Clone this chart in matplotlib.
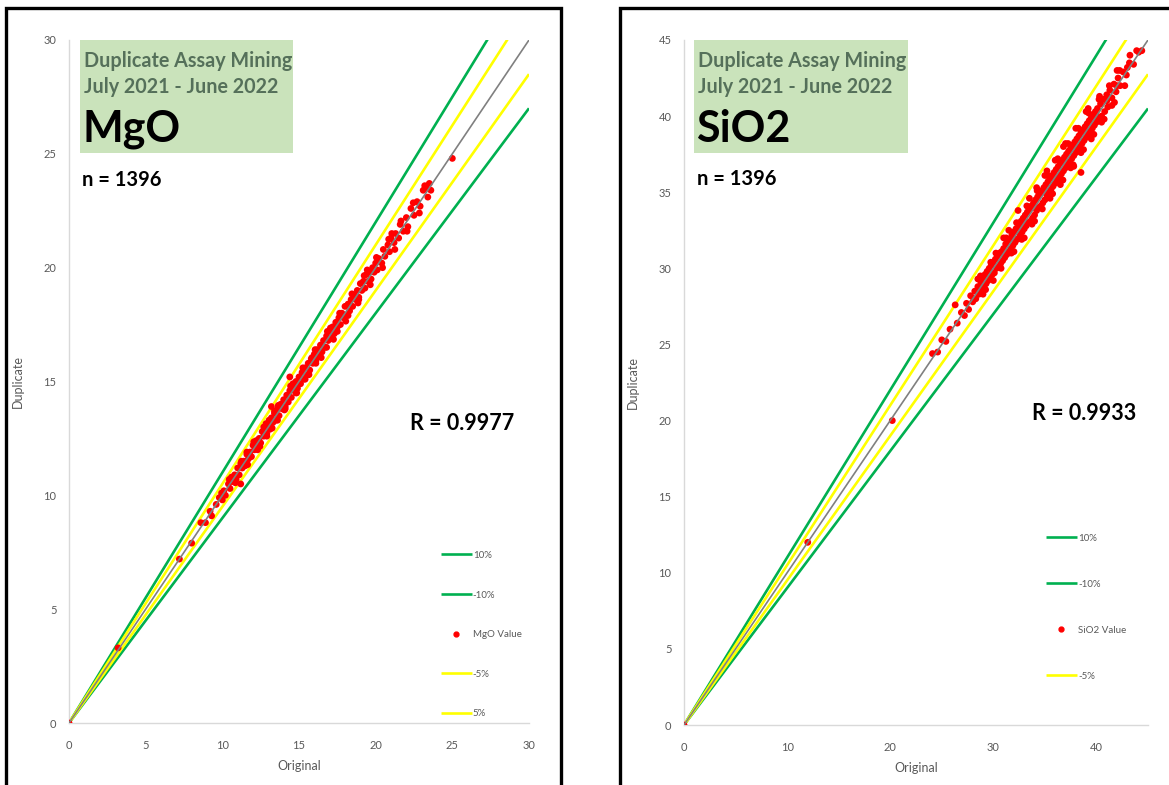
import matplotlib
matplotlib.use("Agg")
import matplotlib.pyplot as plt
from matplotlib.patches import Rectangle
from matplotlib.lines import Line2D

plt.rcParams['font.family'] = ['Lato', 'DejaVu Sans']

# ---------------- data ----------------
mgo_orig = [0, 3.2, 7.2, 8.0, 8.6, 8.9, 9.2, 9.3, 9.6, 9.8, 10.0, 10.1, 10.2, 10.4, 10.5, 10.6, 10.7,
            10.8, 10.9, 11.0, 11.1, 11.2, 11.2, 11.3, 11.4, 11.5, 11.6, 11.7, 11.8, 11.9, 12.0, 12.1,
            12.2, 12.3, 12.4, 12.5, 12.6, 12.7, 12.8, 12.9, 13.0, 13.1, 13.2, 13.2, 13.3, 13.4, 13.5,
            13.6, 13.7, 13.8, 13.9, 14.0, 14.1, 14.2, 14.3, 14.4, 14.4, 14.5, 14.6, 14.7, 14.8, 14.9,
            15.0, 15.1, 15.2, 15.3, 15.4, 15.5, 15.6, 15.7, 15.8, 15.9, 16.0, 16.1, 16.2, 16.3, 16.4,
            16.5, 16.6, 16.7, 16.8, 16.9, 17.0, 17.1, 17.2, 17.3, 17.4, 17.5, 17.6, 17.7, 17.8, 17.9,
            18.0, 18.1, 18.2, 18.3, 18.4, 18.5, 18.6, 18.7, 18.8, 18.9, 19.0, 19.1, 19.2, 19.3, 19.4,
            19.5, 19.6, 19.7, 19.8, 19.9, 20.0, 20.1, 20.2, 20.4, 20.5, 20.6, 20.8, 20.9, 21.0, 21.2,
            21.3, 21.5, 21.6, 21.8, 22.0, 22.1, 22.3, 22.5, 22.7, 22.9, 23.1, 23.3, 23.5, 23.6, 25.0,
            12.3, 12.9, 13.6, 14.1, 14.8, 15.4, 16.1, 16.8, 17.5, 18.2, 18.9, 11.6, 12.7, 13.4, 14.6,
            12.05, 12.45, 12.85, 13.25, 13.65, 14.05, 14.45, 14.85, 15.25, 15.65, 16.05, 16.45,
            16.85, 17.25, 17.65, 18.05, 18.45, 18.85, 19.25, 19.65, 20.05, 20.45, 20.85, 21.25,
            21.65, 22.05, 22.45, 22.85, 10.45, 10.85, 11.25, 11.65, 9.95, 23.2, 23.4, 13.05, 15.85,
            17.05, 19.45, 21.05]
mgo_dup = [0, 3.3, 7.2, 7.9, 8.8, 8.8, 9.3, 9.1, 9.6, 9.9, 9.8, 10.2, 10.0, 10.5, 10.3, 10.8, 10.6,
           10.9, 10.7, 11.2, 10.9, 10.5, 11.4, 11.2, 11.5, 11.3, 11.8, 11.6, 11.9, 11.7, 12.2, 12.0,
           12.4, 12.1, 12.5, 12.3, 12.8, 12.6, 13.0, 12.7, 13.1, 12.9, 13.9, 13.4, 13.2, 13.6, 13.3,
           13.8, 13.5, 14.0, 13.8, 14.2, 13.9, 14.4, 14.1, 15.2, 14.6, 14.3, 14.8, 14.6, 15.0, 14.7,
           15.2, 14.9, 15.4, 15.1, 15.6, 15.3, 15.8, 15.5, 16.0, 15.8, 16.2, 15.9, 16.4, 16.1, 16.6,
           16.3, 16.8, 16.5, 17.0, 16.8, 17.2, 16.9, 17.4, 17.1, 17.6, 17.4, 17.8, 17.5, 18.0, 17.8,
           18.3, 17.9, 18.4, 18.1, 18.6, 18.3, 18.8, 18.6, 19.0, 18.7, 19.3, 19.0, 19.4, 19.1, 19.7,
           19.4, 19.8, 19.5, 20.0, 19.8, 20.2, 19.9, 20.4, 20.2, 20.8, 20.5, 21.0, 20.7, 21.3, 21.1,
           21.5, 21.3, 21.9, 21.6, 22.2, 21.8, 22.6, 22.3, 22.9, 22.7, 23.4, 23.5, 23.7, 23.4, 24.8,
           12.0, 12.6, 13.3, 13.8, 14.5, 15.1, 15.8, 16.5, 17.2, 17.9, 18.6, 11.9, 13.0, 13.7, 14.9,
           12.35, 12.15, 13.15, 12.95, 13.95, 13.75, 14.8, 14.5, 15.6, 15.3, 16.4, 16.05,
           17.2, 16.85, 18.0, 17.65, 18.85, 18.45, 19.65, 19.25, 20.45, 20.0, 21.25, 20.8,
           22.05, 21.6, 22.85, 22.4, 10.7, 10.55, 11.5, 11.35, 10.1, 23.6, 23.1, 13.3, 16.05,
           17.35, 19.9, 21.5]

sio2_orig = [0, 12.0, 20.2, 24.1, 24.6, 25.0, 25.4, 25.8, 26.3, 26.5, 26.9, 27.2, 27.4, 27.6, 27.8,
             28.0, 28.2, 28.3, 28.5, 28.6, 28.8, 28.9, 29.0, 29.1, 29.2, 29.3, 29.4, 29.5, 29.6, 29.7,
             29.8, 29.9, 30.0, 30.1, 30.2, 30.3, 30.4, 30.5, 30.6, 30.7, 30.8, 30.9, 31.0, 31.1, 31.2,
             31.3, 31.4, 31.5, 31.6, 31.7, 31.8, 31.9, 32.0, 32.1, 32.2, 32.3, 32.4, 32.5, 32.6, 32.7,
             32.8, 32.9, 33.0, 33.1, 33.2, 33.3, 33.4, 33.5, 33.6, 33.7, 33.8, 33.9, 34.0, 34.1, 34.2,
             34.3, 34.4, 34.5, 34.6, 34.7, 34.8, 34.9, 35.0, 35.1, 35.2, 35.3, 35.4, 35.5, 35.6, 35.7,
             35.8, 35.9, 36.0, 36.1, 36.2, 36.3, 36.4, 36.5, 36.6, 36.7, 36.8, 36.9, 37.0, 37.1, 37.2,
             37.3, 37.4, 37.5, 37.6, 37.7, 37.8, 37.9, 38.0, 38.1, 38.2, 38.3, 38.4, 38.5, 38.5, 38.6,
             38.7, 38.8, 38.9, 39.0, 39.1, 39.2, 39.3, 39.4, 39.5, 39.6, 39.7, 39.8, 39.9, 40.0, 40.1,
             40.2, 40.4, 40.5, 40.7, 40.8, 41.0, 41.1, 41.3, 41.5, 41.7, 41.9, 42.1, 42.3, 42.6, 42.9,
             43.2, 43.6, 43.9, 44.1, 44.4,
             33.5, 34.2, 35.0, 36.0, 37.0, 38.0, 39.0, 35.5, 36.5, 37.5, 38.5, 39.5, 40.5, 33.0, 34.0,
             31.0, 30.0, 32.0, 36.8, 35.2, 37.8, 39.2, 40.3, 41.5, 42.0, 31.5, 29.0, 28.5,
             30.25, 30.75, 31.25, 31.75, 32.25, 32.75, 33.25, 33.75, 34.25, 34.75, 35.25, 35.75,
             36.25, 36.75, 37.25, 37.75, 38.25, 38.75, 39.25, 39.75, 40.25, 40.75, 41.25, 41.75,
             42.25, 42.75, 43.25, 29.75, 29.25, 28.75, 35.0, 36.0, 37.0, 38.0, 39.0, 40.0, 34.0,
             33.0, 32.0, 31.0, 41.0, 42.0, 43.0]
sio2_dup = [0, 12.0, 20.0, 24.4, 24.5, 25.3, 25.2, 26.0, 27.6, 26.4, 27.1, 26.9, 27.7, 27.3, 28.2,
            27.8, 28.5, 28.0, 28.8, 28.3, 29.1, 28.6, 29.4, 28.8, 29.6, 29.0, 29.8, 29.2, 30.0, 29.4,
            30.2, 29.6, 30.4, 29.7, 30.6, 30.0, 30.8, 30.1, 31.0, 30.3, 31.1, 30.5, 31.3, 30.7, 31.6,
            30.9, 31.8, 31.1, 31.9, 31.3, 32.2, 31.5, 32.4, 31.7, 32.6, 31.9, 33.8, 32.8, 32.2, 33.1,
            32.4, 33.3, 32.6, 33.5, 32.8, 33.7, 33.0, 33.9, 33.1, 34.1, 33.3, 34.3, 33.5, 34.5, 33.8,
            34.7, 34.0, 34.9, 34.1, 35.1, 34.3, 35.3, 34.5, 35.5, 34.8, 35.7, 35.0, 35.9, 35.2, 36.1,
            35.4, 36.3, 35.6, 36.5, 35.8, 36.7, 36.0, 36.9, 36.2, 37.1, 36.4, 37.3, 36.6, 37.5, 36.8,
            37.7, 37.0, 37.9, 37.2, 38.1, 37.4, 38.3, 37.6, 38.5, 37.8, 38.7, 38.0, 36.3, 38.9, 38.2,
            39.1, 38.4, 39.3, 38.6, 39.5, 38.8, 39.7, 39.0, 39.9, 39.2, 40.1, 39.4, 40.3, 39.6, 40.5,
            39.8, 40.8, 40.0, 41.1, 40.3, 41.4, 40.6, 41.7, 41.2, 42.1, 41.6, 42.5, 42.0, 42.9, 42.7,
            43.5, 43.4, 44.3, 44.2, 44.3,
            34.6, 35.3, 36.1, 37.1, 38.2, 39.2, 40.3, 34.6, 35.5, 36.6, 37.6, 38.5, 39.6, 32.0, 33.1,
            32.0, 29.2, 31.1, 38.0, 36.4, 36.7, 40.5, 41.3, 40.7, 43.0, 32.5, 28.3, 29.3,
            31.0, 30.0, 32.0, 31.0, 33.0, 31.9, 34.1, 32.9, 35.1, 33.9, 36.1, 34.9,
            37.2, 35.8, 38.2, 36.8, 39.2, 37.8, 40.2, 38.8, 41.1, 39.8, 42.0, 40.9,
            43.0, 42.0, 44.0, 30.4, 28.6, 29.5, 35.0, 36.0, 37.0, 38.0, 39.0, 40.0, 34.0,
            33.0, 32.0, 31.0, 41.0, 42.0, 43.2]

band_factors = [1.10, 0.90, 1.05, 0.95]
band_labels = ['10%', '-10%', '5%', '-5%']
band_colors = ['#00b050', '#00b050', '#ffff00', '#ffff00']

# ---------------- layout ----------------
W, H = 1169, 785
fig = plt.figure(figsize=(W / 100, H / 100), dpi=100)
fig.patch.set_facecolor('white')


def fx(px):
    return px / W


def fy(py):
    return 1 - py / H


def make_axes(x0, x1, ytop, ybot):
    return fig.add_axes([fx(x0), fy(ybot), fx(x1) - fx(x0), fy(ytop) - fy(ybot)])


TXT_GRAY = '#595959'


def panel(ax, orig, dup, xmax, ymax, xstep, ystep, name, r_text, legend_order,
          box_px, title_px, n_px, r_px, leg_anchor, leg_spacing):
    handles = {}
    for f, lab, col in zip(band_factors, band_labels, band_colors):
        ln, = ax.plot([0, xmax], [0, xmax * f], color=col, lw=1.9, zorder=2,
                      solid_capstyle='butt')
        handles[lab] = ln
    ax.scatter(orig, dup, s=24, color='#ff0000', edgecolors='none', zorder=3)
    handles['value'] = Line2D([], [], color='#ff0000', marker='o', markersize=3.5,
                              linestyle='none')
    ax.plot([0, xmax], [0, xmax], color='#808080', lw=1.2, zorder=4)

    ax.set_xlim(0, xmax)
    ax.set_ylim(0, ymax)
    ax.set_xticks(range(0, int(xmax) + 1, xstep))
    ax.set_yticks(range(0, int(ymax) + 1, ystep))
    for s in ['top', 'right']:
        ax.spines[s].set_visible(False)
    for s in ['left', 'bottom']:
        ax.spines[s].set_color('#d9d9d9')
        ax.spines[s].set_linewidth(1.0)
    ax.tick_params(length=0, labelsize=8, labelcolor=TXT_GRAY)
    ax.tick_params(axis='x', pad=12)
    ax.tick_params(axis='y', pad=9)
    ax.set_xlabel('Original', fontsize=9, color=TXT_GRAY, labelpad=7)
    ax.set_ylabel('Duplicate', fontsize=9, color=TXT_GRAY, labelpad=14)

    labels_map = {'value': name + ' Value'}
    hs = [handles[k] for k in legend_order]
    ls = [labels_map.get(k, k) for k in legend_order]
    ax.legend(hs, ls, loc='upper left', bbox_to_anchor=leg_anchor,
              frameon=False, fontsize=7, labelcolor=TXT_GRAY,
              handlelength=3.2, handletextpad=0.1, labelspacing=leg_spacing,
              borderpad=0, borderaxespad=0)

    bx0, by0, bx1, by1 = box_px
    fig.patches.append(Rectangle((fx(bx0), fy(by1)), fx(bx1) - fx(bx0), fy(by0) - fy(by1),
                                 transform=fig.transFigure, facecolor='#c5e0b4',
                                 edgecolor='none', alpha=0.9, zorder=5))
    tx, ty = title_px
    fig.text(fx(tx), fy(ty), 'Duplicate Assay Mining', fontsize=14.2, fontweight='bold',
             color='#55705a', va='center', ha='left', zorder=6)
    fig.text(fx(tx), fy(ty + 26), 'July 2021 - June 2022', fontsize=14.2, fontweight='bold',
             color='#55705a', va='center', ha='left', zorder=6)
    fig.text(fx(tx - 2), fy(ty + 68), name, fontsize=31, fontweight='bold',
             color='black', va='center', ha='left', zorder=6)
    fig.text(fx(n_px[0]), fy(n_px[1]), 'n = 1396', fontsize=14.5, fontweight='bold',
             color='black', va='center', ha='left', zorder=6)
    fig.text(fx(r_px[0]), fy(r_px[1]), r_text, fontsize=15.5, fontweight='bold',
             color='black', va='center', ha='left', zorder=6)


axL = make_axes(69, 529, 40, 723)
panel(axL, mgo_orig, mgo_dup, 30, 30, 5, 5, 'MgO', 'R = 0.9977',
      ['10%', '-10%', 'value', '-5%', '5%'],
      (80, 40, 293, 153), (84, 61), (82, 180), (410, 424), (0.808, 0.252), 3.15)

axR = make_axes(684, 1148, 40, 725)
panel(axR, sio2_orig, sio2_dup, 45, 45, 10, 5, 'SiO2', 'R = 0.9933',
      ['10%', '-10%', 'value', '-5%'],
      (694, 40, 908, 153), (698, 61), (697, 179), (1032, 413), (0.78, 0.279), 3.8)

for (x0, y0, x1, y1) in [(6, 8, 561, 800), (620, 8, 1180, 800)]:
    fig.patches.append(Rectangle((fx(x0), fy(y1)), fx(x1) - fx(x0), fy(y0) - fy(y1),
                                 transform=fig.transFigure, facecolor='none',
                                 edgecolor='black', linewidth=2.4, zorder=10,
                                 clip_on=False))

fig.savefig('out.png', dpi=100)
